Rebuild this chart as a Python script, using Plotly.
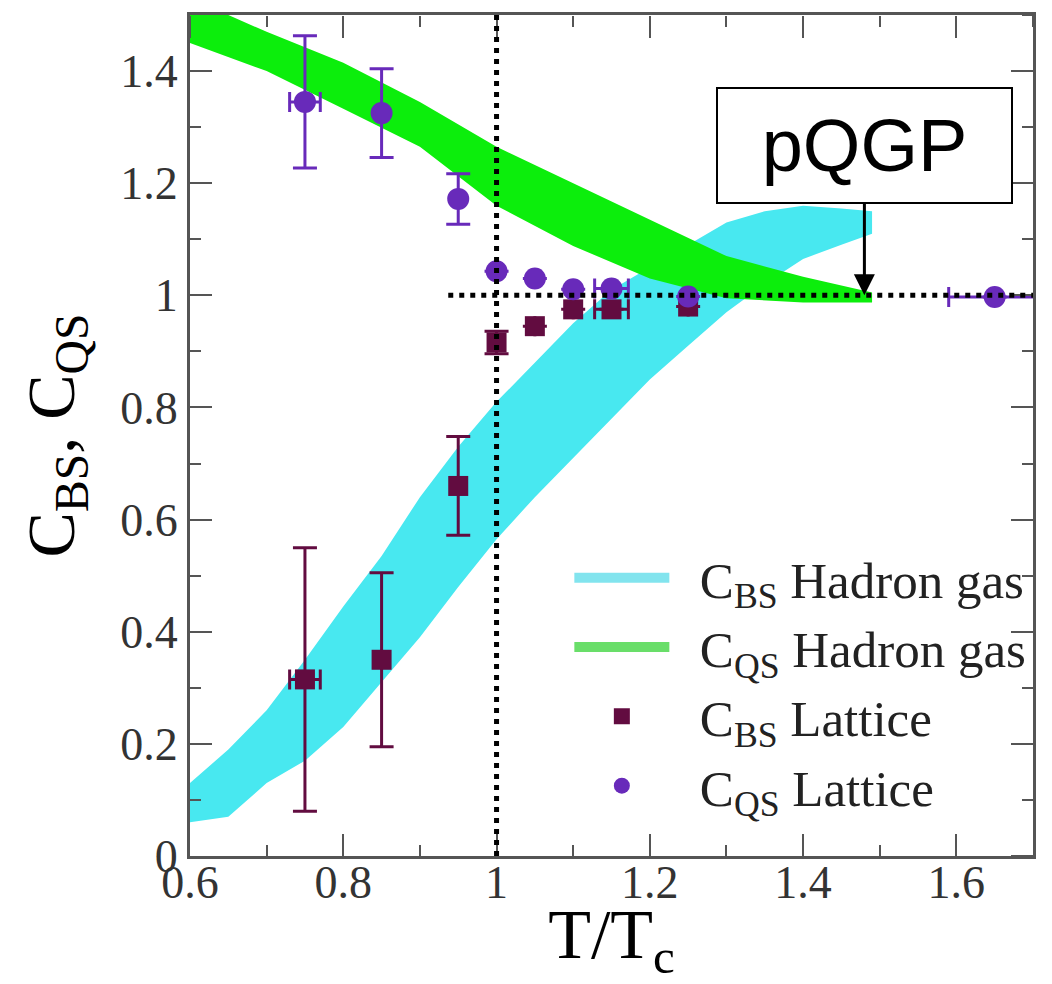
import plotly.graph_objects as go

# ---------------- data ----------------
# C_BS hadron-gas band (lower / upper edge)
BS_HG_T = [0.60, 0.65, 0.70, 0.75, 0.80, 0.85, 0.90, 0.95, 1.00, 1.05,
           1.10, 1.15, 1.20, 1.25, 1.30, 1.35, 1.40, 1.45, 1.49]
BS_HG_UP = [0.13, 0.19, 0.26, 0.35, 0.445, 0.535, 0.64, 0.73, 0.81, 0.88,
            0.95, 1.01, 1.05, 1.09, 1.13, 1.15, 1.16, 1.155, 1.15]
BS_HG_LO = [0.06, 0.07, 0.13, 0.17, 0.23, 0.31, 0.39, 0.48, 0.565, 0.64,
            0.71, 0.78, 0.85, 0.91, 0.97, 1.02, 1.065, 1.09, 1.11]

# C_QS hadron-gas band (lower / upper edge)
QS_HG_T = [0.60, 0.70, 0.80, 0.90, 1.00, 1.10, 1.20, 1.30, 1.40, 1.49]
QS_HG_UP = [1.53, 1.47, 1.415, 1.345, 1.265, 1.20, 1.135, 1.07, 1.033, 1.005]
QS_HG_LO = [1.45, 1.40, 1.333, 1.265, 1.16, 1.088, 1.03, 0.995, 0.987, 0.987]

# lattice points
BS_T = [0.75, 0.85, 0.95, 1.00, 1.05, 1.10, 1.15, 1.25]
BS_C = [0.315, 0.35, 0.66, 0.916, 0.945, 0.975, 0.975, 0.98]
BS_ERR = [0.235, 0.155, 0.088, 0.02, None, None, None, None]
BS_TERR = [0.02, None, None, None, None, None, 0.022, None]

QS_T = [0.75, 0.85, 0.95, 1.00, 1.05, 1.10, 1.15, 1.25, 1.65]
QS_C = [1.345, 1.325, 1.172, 1.043, 1.030, 1.011, 1.012, 0.998, 0.997]
QS_ERR = [0.118, 0.079, 0.045, None, None, None, None, None, None]
QS_TERR = [0.02, None, None, None, None, None, 0.022, None, 0.06]

# reference lines and annotation
TC_LINE = 1.0
UNITY_LINE = 1.0
UNITY_START = 0.937
PQGP_AT = (1.48, 1.0)

X_RANGE = [0.6, 1.7]
Y_RANGE = [0, 1.5]
X_TICKS = [0.6, 0.8, 1.0, 1.2, 1.4, 1.6]
X_LABELS = ["0.6", "0.8", "1", "1.2", "1.4", "1.6"]
Y_TICKS = [0, 0.2, 0.4, 0.6, 0.8, 1.0, 1.2, 1.4]
Y_LABELS = ["0", "0.2", "0.4", "0.6", "0.8", "1", "1.2", "1.4"]

# ---------------- styles ----------------
CYAN = "rgb(72,232,240)"
GREEN = "rgb(12,238,12)"
CYAN_LEG = "rgb(130,228,238)"
GREEN_LEG = "rgb(105,222,105)"
MAROON = "rgb(98,12,64)"
PURPLE = "rgb(104,42,186)"
AXC = "#555555"
SERIF = "Liberation Serif"

fig = go.Figure()

fig.add_trace(go.Scatter(x=BS_HG_T, y=BS_HG_LO, mode="lines", line=dict(width=0, color=CYAN),
                         showlegend=False, hoverinfo="skip"))
fig.add_trace(go.Scatter(x=BS_HG_T, y=BS_HG_UP, mode="lines", line=dict(width=0, color=CYAN),
                         fill="tonexty", fillcolor=CYAN, showlegend=False, hoverinfo="skip"))
fig.add_trace(go.Scatter(x=QS_HG_T, y=QS_HG_LO, mode="lines", line=dict(width=0, color=GREEN),
                         showlegend=False, hoverinfo="skip"))
fig.add_trace(go.Scatter(x=QS_HG_T, y=QS_HG_UP, mode="lines", line=dict(width=0, color=GREEN),
                         fill="tonexty", fillcolor=GREEN, showlegend=False, hoverinfo="skip"))

NB = "\u00a0\u00a0"
# legend keys for the bands
fig.add_trace(go.Scatter(x=[None], y=[None], mode="lines", line=dict(color=CYAN_LEG, width=20),
                         name=NB + "C<sub>BS</sub> Hadron gas", legendgroup="a"))
fig.add_trace(go.Scatter(x=[None], y=[None], mode="lines", line=dict(color=GREEN_LEG, width=20),
                         name=NB + "C<sub>QS</sub> Hadron gas", legendgroup="b"))

fig.add_trace(go.Scatter(
    x=BS_T, y=BS_C, mode="markers", name=NB + "C<sub>BS</sub> Lattice", legendgroup="c",
    marker=dict(symbol="square", size=20, color=MAROON),
    error_y=dict(type="data", array=BS_ERR, color=MAROON, thickness=3, width=12),
    error_x=dict(type="data", array=BS_TERR, color=MAROON, thickness=3, width=10)))
fig.add_trace(go.Scatter(
    x=QS_T, y=QS_C, mode="markers", name=NB + "C<sub>QS</sub> Lattice", legendgroup="d",
    marker=dict(symbol="circle", size=22, color=PURPLE),
    error_y=dict(type="data", array=QS_ERR, color=PURPLE, thickness=3, width=12),
    error_x=dict(type="data", array=QS_TERR, color=PURPLE, thickness=3, width=10)))

# empty trace that carries the top / right tick axes
fig.add_trace(go.Scatter(x=[None], y=[None], xaxis="x2", yaxis="y2",
                         showlegend=False, hoverinfo="skip"))

dot = dict(color="black", width=5, dash="5px,6px")
fig.add_shape(type="line", xref="x", yref="y", x0=TC_LINE, x1=TC_LINE, y0=0, y1=1.5,
              line=dot, layer="above")
fig.add_shape(type="line", xref="x", yref="y", x0=UNITY_START, x1=1.7, y0=UNITY_LINE, y1=UNITY_LINE,
              line=dot, layer="above")

fig.add_annotation(x=PQGP_AT[0], y=PQGP_AT[1], xref="x", yref="y", text="pQGP",
                   showarrow=True, arrowhead=2, arrowsize=1.4, arrowwidth=3, arrowcolor="black",
                   ax=0, ay=-150, font=dict(family="Liberation Sans", size=74, color="black"),
                   bordercolor="black", borderwidth=2, borderpad=0, bgcolor="white",
                   width=293, height=113, align="center", valign="middle")

tick_common = dict(tickwidth=2, tickcolor=AXC, ticklen=22,
                   showgrid=False, zeroline=False,
                   tickfont=dict(family=SERIF, size=46, color="#333333"))

fig.update_layout(
    xaxis=dict(range=X_RANGE, tickmode="array", tickvals=X_TICKS, ticktext=X_LABELS,
               ticks="inside", ticklabelstandoff=-16,
               minor=dict(dtick=0.1, tick0=0.6, ticks="inside", ticklen=11, tickwidth=2, tickcolor=AXC),
               showline=True, linewidth=3, linecolor=AXC, mirror=True,
               title=dict(text="T/T<sub>c</sub>", font=dict(family=SERIF, size=70, color="black"),
                          standoff=3),
               **tick_common),
    yaxis=dict(range=Y_RANGE, tickmode="array", tickvals=Y_TICKS, ticktext=Y_LABELS,
               ticks="inside",
               minor=dict(dtick=0.1, tick0=0, ticks="inside", ticklen=11, tickwidth=2, tickcolor=AXC),
               showline=True, linewidth=3, linecolor=AXC, mirror=True,
               title=dict(text="C<sub>BS</sub>, C<sub>QS</sub>",
                          font=dict(family=SERIF, size=68, color="black"), standoff=24),
               **tick_common),
    # top ticks: a bottom-side axis placed at the top edge, ticks pointing down into the plot
    xaxis2=dict(range=X_RANGE, overlaying="x", side="bottom", anchor="free", position=1.0,
                tickmode="array", tickvals=X_TICKS, showticklabels=False, ticks="outside",
                minor=dict(dtick=0.1, tick0=0.6, ticks="outside", ticklen=11, tickwidth=2, tickcolor=AXC),
                showline=False, **tick_common),
    # right ticks: a left-side axis placed at the right edge, ticks pointing left into the plot
    yaxis2=dict(range=Y_RANGE, overlaying="y", side="left", anchor="free", position=1.0,
                tickmode="array", tickvals=Y_TICKS, showticklabels=False, ticks="outside",
                minor=dict(dtick=0.1, tick0=0, ticks="outside", ticklen=11, tickwidth=2, tickcolor=AXC),
                showline=False, **tick_common),
    width=1052, height=984,
    margin=dict(l=190, r=19, t=15, b=128, autoexpand=False),
    paper_bgcolor="white", plot_bgcolor="white",
    showlegend=True,
    legend=dict(x=0.45, y=0.378, xanchor="left", yanchor="top",
                bgcolor="rgba(0,0,0,0)", borderwidth=0, itemwidth=95,
                tracegroupgap=9, traceorder="normal",
                font=dict(family=SERIF, size=51, color="#222222")),
)

fig.write_html("out.html")
